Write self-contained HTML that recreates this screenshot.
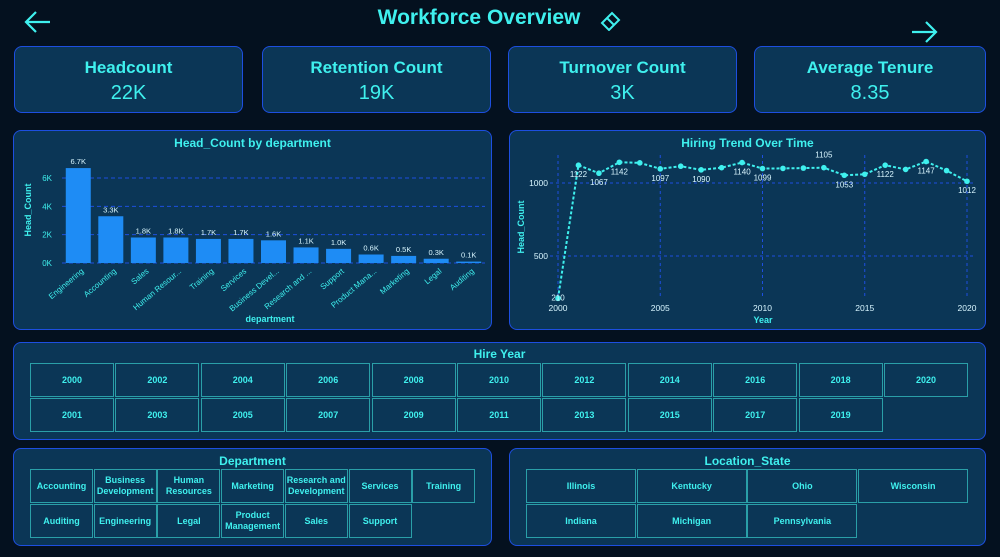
<!DOCTYPE html>
<html><head><meta charset="utf-8"><style>
*{box-sizing:border-box;margin:0;padding:0}
body{width:1000px;height:557px;background:#04111f;font-family:"Liberation Sans",sans-serif;color:#3ff0ee;position:relative;overflow:hidden}
.card{position:absolute;background:#0b3656;border:1.5px solid #1d4fe0;border-radius:8px}
.kpi{text-align:center;font-weight:bold}
.kpi .t{font-size:17px;margin-top:11px}
.kpi .v{font-size:20px;font-weight:normal;margin-top:4px}
.ptitle{position:absolute;left:0;right:0;text-align:center;font-weight:bold;font-size:12px}
.btn{position:absolute;border:1.5px solid #2a9fa8;font-size:9px;font-weight:bold;display:flex;align-items:center;justify-content:center;text-align:center;line-height:11px}
svg text{font-family:"Liberation Sans",sans-serif}
</style></head><body>
<svg style="position:absolute;left:22px;top:8px" width="32" height="28"><path d="M28 14H4M14 4L4 14L14 24" stroke="#3ff0ee" stroke-width="2.2" fill="none"/></svg>
<div style="position:absolute;left:0;width:958px;top:6px;text-align:center;font-size:21px;font-weight:bold">Workforce Overview</div>
<svg style="position:absolute;left:598px;top:9px" width="24" height="22"><path d="M4 14L14 4L21 11L11 21Z M9 9L16 16" stroke="#3ff0ee" stroke-width="2" fill="none"/></svg>
<svg style="position:absolute;left:908px;top:18px" width="32" height="28"><path d="M4 14H28M18 4L28 14L18 24" stroke="#3ff0ee" stroke-width="2.2" fill="none"/></svg>

<div class="card kpi" style="left:14px;top:46px;width:229px;height:67px"><div class="t">Headcount</div><div class="v">22K</div></div>
<div class="card kpi" style="left:262px;top:46px;width:229px;height:67px"><div class="t">Retention Count</div><div class="v">19K</div></div>
<div class="card kpi" style="left:508px;top:46px;width:229px;height:67px"><div class="t">Turnover Count</div><div class="v">3K</div></div>
<div class="card kpi" style="left:754px;top:46px;width:232px;height:67px"><div class="t">Average Tenure</div><div class="v">8.35</div></div>

<div class="card" style="left:13px;top:130px;width:479px;height:200px">
<div class="ptitle" style="top:5px">Head_Count by department</div></div>
<div class="card" style="left:509px;top:130px;width:477px;height:200px">
<div class="ptitle" style="top:5px">Hiring Trend Over Time</div></div>
<svg id="bar" style="position:absolute;left:0;top:0" width="500" height="335"></svg>
<svg id="line" style="position:absolute;left:0;top:0;pointer-events:none" width="1000" height="335"></svg>

<div class="card" style="left:13px;top:342px;width:973px;height:98px">
<div class="ptitle" style="top:4px">Hire Year</div></div>
<div class="card" style="left:13px;top:448px;width:479px;height:98px">
<div class="ptitle" style="top:5px">Department</div></div>
<div class="card" style="left:509px;top:448px;width:477px;height:98px">
<div class="ptitle" style="top:5px">Location_State</div></div>
<div id="btns"></div>

<script>
const NS="http://www.w3.org/2000/svg";
function mk(p,tag,a,txt){const e=document.createElementNS(NS,tag);for(const k in a)e.setAttribute(k,a[k]);if(txt!=null)e.textContent=txt;p.appendChild(e);return e;}
// ---- bar chart data
const departments=["Engineering","Accounting","Sales","Human Resour...","Training","Services","Business Devel...","Research and ...","Support","Product Mana...","Marketing","Legal","Auditing"];
const headCounts=[6.7,3.3,1.8,1.8,1.7,1.7,1.6,1.1,1.0,0.6,0.5,0.3,0.1];
const barTicks=[0,2,4,6];
const bar=document.getElementById('bar');
const bx0=62,bx1=485,by0=263,by6=178;
const by=v=>by0-(by0-by6)*v/6;
const step=(bx1-bx0)/departments.length;
barTicks.forEach(t=>{
 if(t>0){const l=mk(bar,'line',{x1:bx0,x2:bx1,y1:by(t),y2:by(t),stroke:'#1d4fe0','stroke-dasharray':'4,3'});}
 else{mk(bar,'line',{x1:bx0,x2:bx1,y1:by0,y2:by0,stroke:'#1d4fe0','stroke-dasharray':'4,3'});}
 const tx=mk(bar,'text',{x:52,y:by(t)+3,'font-size':8,fill:'#3ff0ee','text-anchor':'end'},t+'K');
 
});
departments.forEach((d,i)=>{
 const cx=bx0+step*(i+0.5),v=headCounts[i];
 const r=mk(bar,'rect',{x:cx-12.5,y:by(v),width:25,height:by0-by(v),fill:'#1e8cf5'});
 
 const l=mk(bar,'text',{x:cx,y:by(v)-4,'font-size':7.5,fill:'#d8f6ff','text-anchor':'middle'},v.toFixed(1)+'K');
 
 const c=mk(bar,'text',{x:cx+6,y:272,'font-size':8,fill:'#3ff0ee','text-anchor':'end',transform:`rotate(-40 ${cx+6} 272)`},d);
 
});
let t=mk(bar,'text',{x:270,y:322,'font-size':9,'font-weight':'bold',fill:'#3ff0ee','text-anchor':'middle'},'department');

t=mk(bar,'text',{x:31,y:210,'font-size':9,'font-weight':'bold',fill:'#3ff0ee','text-anchor':'middle',transform:'rotate(-90 31 210)'},'Head_Count');


// ---- line chart data
const years=[2000,2001,2002,2003,2004,2005,2006,2007,2008,2009,2010,2011,2012,2013,2014,2015,2016,2017,2018,2019,2020];
const hires=[210,1122,1067,1142,1138,1097,1115,1090,1105,1140,1099,1100,1102,1105,1053,1060,1122,1093,1147,1085,1012];
const labelled=[1,1,1,1,0,1,0,1,0,1,1,0,0,1,1,0,1,0,1,0,1];
const labelAbove=[0,0,0,0,0,0,0,0,0,0,0,0,0,1,0,0,0,0,0,0,0];
const xTicks=[2000,2005,2010,2015,2020];
const yTicks=[500,1000];
const line=document.getElementById('line');
const lx=y=>558+(967-558)*(y-2000)/20;
const ly=v=>183-(v-1000)*73/500;
xTicks.forEach(x=>{
 mk(line,'line',{x1:lx(x),x2:lx(x),y1:155,y2:298,stroke:'#1d4fe0','stroke-dasharray':'3,3'});
 const e=mk(line,'text',{x:lx(x),y:311,'font-size':8.5,fill:'#d8f6ff','text-anchor':'middle'},x);
 
});
yTicks.forEach(v=>{
 mk(line,'line',{x1:550,x2:975,y1:ly(v),y2:ly(v),stroke:'#1d4fe0','stroke-dasharray':'3,3'});
 const e=mk(line,'text',{x:548,y:ly(v)+3,'font-size':8.5,fill:'#d8f6ff','text-anchor':'end'},v);
 
});
const p=mk(line,'polyline',{points:years.map((y,i)=>lx(y)+','+ly(hires[i])).join(' '),fill:'none',stroke:'#3ff0ee','stroke-width':2,'stroke-dasharray':'3,2'});

years.forEach((y,i)=>{
 const c=mk(line,'circle',{cx:lx(y),cy:ly(hires[i]),r:2.8,fill:'#3ff0ee'});
 
 if(labelled[i]){
  const yy=i==0?ly(hires[i])+2:(labelAbove[i]?ly(hires[i])-10:ly(hires[i])+12);
  const e=mk(line,'text',{x:lx(y),y:yy,'font-size':8,fill:'#d8f6ff','text-anchor':'middle'},hires[i]);
  
 }
});
t=mk(line,'text',{x:763,y:323,'font-size':9,'font-weight':'bold',fill:'#3ff0ee','text-anchor':'middle'},'Year');

t=mk(line,'text',{x:524,y:227,'font-size':9,'font-weight':'bold',fill:'#3ff0ee','text-anchor':'middle',transform:'rotate(-90 524 227)'},'Head_Count');


// ---- slicer buttons
const B=document.getElementById('btns');
function btn(x,y,w,h,txt,name){const d=document.createElement('div');d.className='btn';d.style.cssText=`left:${x}px;top:${y}px;width:${w}px;height:${h}px`;d.innerHTML=txt;
 
 
 B.appendChild(d);}
const yr1=[2000,2002,2004,2006,2008,2010,2012,2014,2016,2018,2020],yr2=[2001,2003,2005,2007,2009,2011,2013,2015,2017,2019];
yr1.forEach((y,i)=>btn(30+i*85.4,363,84,34,y,'year-'+y+'-button'));
yr2.forEach((y,i)=>btn(30+i*85.4,398,84,34,y,'year-'+y+'-button'));
const d1=["Accounting","Business<br>Development","Human<br>Resources","Marketing","Research and<br>Development","Services","Training"];
const d2=["Auditing","Engineering","Legal","Product<br>Management","Sales","Support"];
d1.forEach((d,i)=>btn(30+i*63.7,469,63,34,d,'dept-'+d.replace(/<br>/,' ').toLowerCase().replace(/ /g,'-')+'-button'));
d2.forEach((d,i)=>btn(30+i*63.7,504,63,34,d,'dept-'+d.replace(/<br>/,' ').toLowerCase().replace(/ /g,'-')+'-button'));
const s1=["Illinois","Kentucky","Ohio","Wisconsin"],s2=["Indiana","Michigan","Pennsylvania"];
s1.forEach((s,i)=>btn(526+i*110.7,469,110,34,s,'state-'+s.toLowerCase()+'-button'));
s2.forEach((s,i)=>btn(526+i*110.7,504,110,34,s,'state-'+s.toLowerCase()+'-button'));
</script>
</body></html>
